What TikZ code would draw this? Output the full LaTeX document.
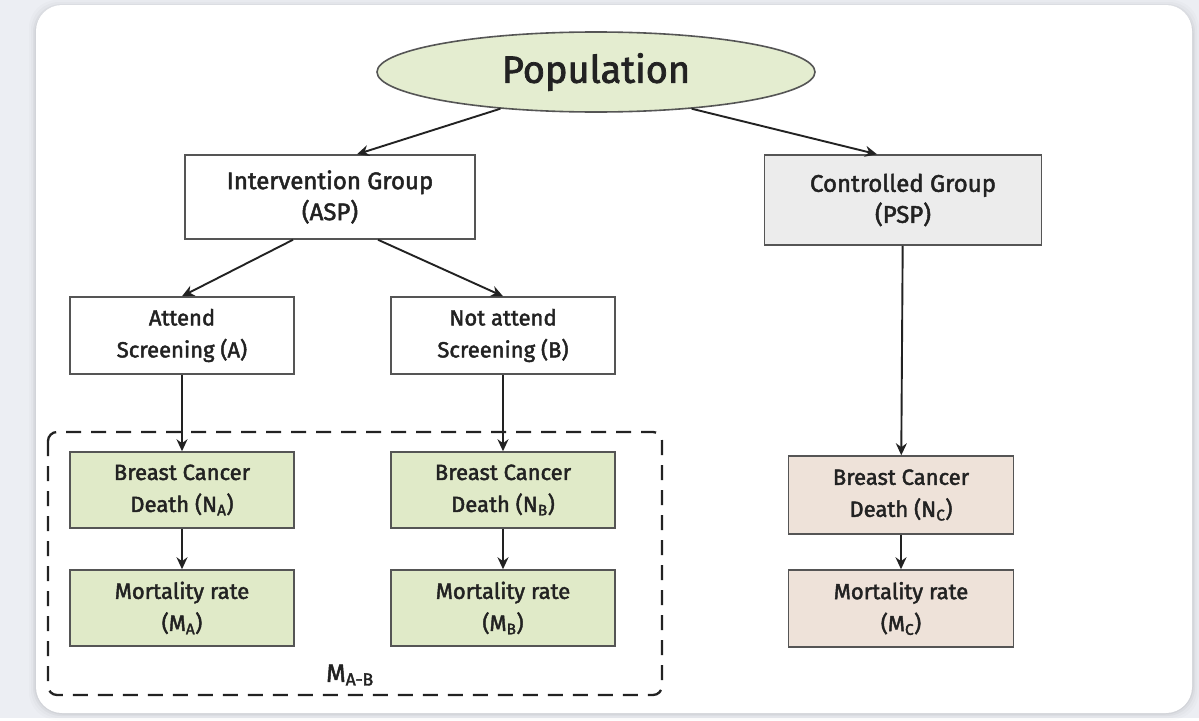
\documentclass[tikz,border=0pt]{standalone}
\usepackage{fontspec}
\setmainfont{Fira Sans}[FakeBold=2]
\usetikzlibrary{shapes.geometric,arrows.meta}

\definecolor{pagebg}{HTML}{ECEEF3}
\definecolor{boxline}{HTML}{555555}
\definecolor{inkc}{HTML}{222222}
\definecolor{greenfill}{HTML}{E0EAC8}
\definecolor{popfill}{HTML}{E4EDD0}
\definecolor{grayfill}{HTML}{ECECEC}
\definecolor{rosefill}{HTML}{EEE2D9}

\begin{document}
\begin{tikzpicture}[x=1pt,y=-1pt,
  box/.style={draw=boxline, line width=1.5pt, rectangle, align=center,
    inner sep=0pt, text=inkc, font=\fontsize{22}{32}\selectfont},
  plainbox/.style={box, fill=white},
  greenbox/.style={box, fill=greenfill},
  rosebox/.style={box, fill=rosefill},
  arr/.style={draw=inkc, line width=1.9pt, -{Stealth[length=12pt,width=11pt]}},
  ]
  % page and card
  \fill[pagebg] (0,0) rectangle (1199,718);
  \foreach \d/\o in {7/0.015,5/0.02,3/0.03,1.5/0.04}
    \fill[black, opacity=\o, rounded corners=28pt] (36-\d,5-\d+2) rectangle (1192+\d,713+\d);
  \fill[white, rounded corners=26pt] (36,5) rectangle (1192,713);
  \useasboundingbox (0,0) rectangle (1199,718);

  % top node
  \node[ellipse, draw=boxline, line width=1.6pt, fill=popfill, inner sep=0pt,
        minimum width=438pt, minimum height=80pt, text=inkc,
        font=\fontsize{38}{40}\selectfont] (pop) at (596,72) {Population};

  % study arms
  \node[plainbox, minimum width=290pt, minimum height=84pt, font=\fontsize{24}{31}\selectfont]
    (ig) at (330,197) {Intervention Group\\(ASP)};
  \node[box, fill=grayfill, minimum width=277pt, minimum height=90pt, font=\fontsize{24}{31}\selectfont]
    (cg) at (903,200) {Controlled Group\\(PSP)};

  % screening attendance
  \node[plainbox, minimum width=224pt, minimum height=77pt] (att) at (182,335.5) {Attend\\Screening (A)};
  \node[plainbox, minimum width=224pt, minimum height=77pt] (nat) at (503,335.5) {Not attend\\Screening (B)};

  % outcomes
  \node[greenbox, minimum width=224pt, minimum height=76pt] (da) at (182,490) {Breast Cancer\\Death (N\textsubscript{A})};
  \node[greenbox, minimum width=224pt, minimum height=76pt] (ma) at (182,608) {Mortality rate\\(M\textsubscript{A})};
  \node[greenbox, minimum width=224pt, minimum height=76pt] (db) at (503,490) {Breast Cancer\\Death (N\textsubscript{B})};
  \node[greenbox, minimum width=224pt, minimum height=76pt] (mb) at (503,608) {Mortality rate\\(M\textsubscript{B})};
  \node[rosebox, minimum width=225pt, minimum height=78pt] (dc) at (901,495) {Breast Cancer\\Death (N\textsubscript{C})};
  \node[rosebox, minimum width=225pt, minimum height=77pt] (mc) at (901,608.5) {Mortality rate\\(M\textsubscript{C})};

  % comparison frame
  \draw[inkc, line width=2.3pt, dash pattern=on 15pt off 10pt, rounded corners=9pt]
    (48,432) rectangle (662,695);
  \node[text=inkc, font=\fontsize{25}{26}\selectfont] (mab) at (350,675) {M\textsubscript{A-B}};

  % connectors
  \draw[arr] (pop.201) -- ([xshift=27pt]ig.north);
  \draw[arr] (pop.339) -- ([xshift=-26pt]cg.north);
  \draw[arr] ([xshift=-37pt]ig.south) -- (att.north);
  \draw[arr] ([xshift=48pt]ig.south) -- (nat.north);
  \draw[arr] (att) -- (da);
  \draw[arr] (nat) -- (db);
  \draw[arr] (da) -- (ma);
  \draw[arr] (db) -- (mb);
  \draw[arr] (cg) -- (dc);
  \draw[arr] (dc) -- (mc);
\end{tikzpicture}
\end{document}
